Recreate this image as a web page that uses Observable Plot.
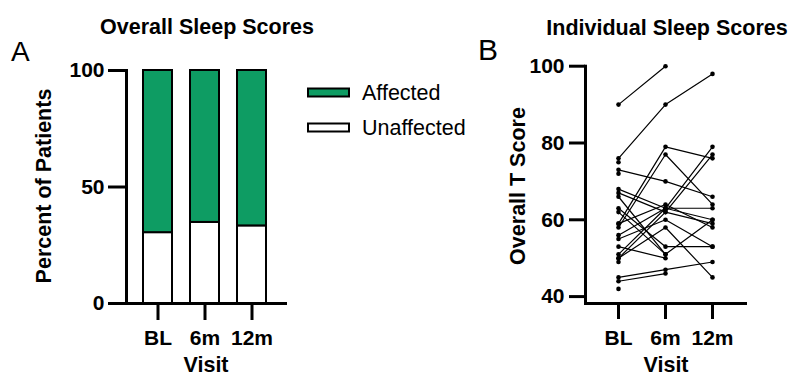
<!DOCTYPE html>
<html><head><meta charset="utf-8">
<script src="https://cdn.jsdelivr.net/npm/d3@7"></script>
<script src="https://cdn.jsdelivr.net/npm/@observablehq/plot@0.6"></script>
<style>
body{margin:0;background:#fff;}
#wrap{position:relative;width:790px;height:376px;overflow:hidden;font-family:"Liberation Sans",Arial,sans-serif;}
</style></head><body><div id="wrap"></div>
<script>
// ---- data ----
const visits = ["BL", "6m", "12m"];
const statuses = ["Unaffected", "Affected"];
const unaffectedPct = [30.4, 34.8, 33.3];
const affectedPct = [69.6, 65.2, 66.7];
const percentTicks = [0, 50, 100];
const scoreTicks = [40, 60, 80, 100];
const patientIds = [1,2,3,4,5,6,7,8,9,10,11,12,13,14,15,16,17,18,19,20,21,22,23];
const blScores  = [90, 76, 75, 73, 72, 68, 67, 66, 63, 62, 59, 58, 59, 50, 55, 53, 51, 50, 49, 45, 44, 42, 56];
const m6Scores  = [100, 90, null, 70, null, 63, 62, 51, 53, 51, 79, 77, 64, 58, 60, 50, 63, 62, null, 47, 46, null, 63];
const m12Scores = [null, 98, null, 66, null, 63, 59, null, 53, 60, 76, 64, 58, 45, 53, null, 79, 77, null, 49, null, null, 60];
const green = "#0e9c63";

const FONT = '"Liberation Sans", Arial, sans-serif';

// ---- tables ----
const barData = [];
visits.forEach((v, i) => {
  barData.push({visit: v, status: "Unaffected", pct: unaffectedPct[i]});
  barData.push({visit: v, status: "Affected", pct: affectedPct[i]});
});
const scoreData = [];
patientIds.forEach((id, i) => {
  [blScores[i], m6Scores[i], m12Scores[i]].forEach((s, j) => {
    if (s != null) scoreData.push({id, visit: visits[j], score: s});
  });
});

const baseStyle = {fontFamily: FONT, fontSize: "21px", fontWeight: "bold", color: "black", background: "transparent", overflow: "visible"};

// ---- Panel A ----
const plotA = Plot.plot({
  width: 300, height: 376,
  marginLeft: 126, marginRight: 15, marginTop: 70, marginBottom: 73,
  style: baseStyle,
  x: {type: "band", domain: visits, paddingInner: 0.39, paddingOuter: 0.369, align: 0.47, label: null},
  y: {domain: [0, 100], label: null},
  color: {domain: ["Affected", "Unaffected"], range: [green, "white"]},
  marks: [
    Plot.barY(barData, {x: "visit", y: "pct", fill: "status", stroke: "black", strokeWidth: 2}),
    Plot.frame({anchor: "left", strokeWidth: 3, strokeLinecap: "square"}),
    Plot.frame({anchor: "bottom", strokeWidth: 3, strokeLinecap: "square"}),
    Plot.axisY({ticks: percentTicks, tickSize: 18, tickPadding: 4, strokeWidth: 3, label: null}),
    Plot.axisX({tickSize: 17, tickPadding: 10, strokeWidth: 3, label: null})
  ]
});
plotA.style.position = "absolute";
plotA.style.left = "0px";
plotA.style.top = "0px";

// ---- Panel B ----
const plotB = Plot.plot({
  width: 310, height: 376,
  marginLeft: 105, marginRight: 45, marginTop: 65.7, marginBottom: 73,
  style: baseStyle,
  x: {type: "point", domain: visits, padding: 0.6875, label: null},
  y: {domain: [38.2, 100], label: null},
  marks: [
    Plot.line(scoreData, {x: "visit", y: "score", z: "id", stroke: "black", strokeWidth: 1.2}),
    Plot.dot(scoreData, {x: "visit", y: "score", r: 2.3, fill: "black", stroke: "none"}),
    Plot.frame({anchor: "left", strokeWidth: 3, strokeLinecap: "square"}),
    Plot.frame({anchor: "bottom", strokeWidth: 3, strokeLinecap: "square"}),
    Plot.axisY({ticks: scoreTicks, tickSize: 16, tickPadding: 5, strokeWidth: 3, label: null}),
    Plot.axisX({tickSize: 16, tickPadding: 11, strokeWidth: 3, label: null})
  ]
});
plotB.style.position = "absolute";
plotB.style.left = "480px";
plotB.style.top = "0px";

const wrap = document.getElementById("wrap");
wrap.appendChild(plotA);
wrap.appendChild(plotB);

// ---- overlay text & legend ----
const ov = d3.create("svg")
  .attr("width", 790).attr("height", 376)
  .style("position", "absolute").style("left", "0px").style("top", "0px")
  .style("pointer-events", "none")
  .attr("font-family", FONT);

const texts = [
  {t: "Overall Sleep Scores", x: 207, y: 33.5, size: 21.5, w: "bold", a: "middle"},
  {t: "Individual Sleep Scores", x: 667, y: 35, size: 21.5, w: "bold", a: "middle"},
  {t: "A", x: 11, y: 61, size: 28, w: "normal", a: "start"},
  {t: "B", x: 478, y: 60, size: 30, w: "normal", a: "start"},
  {t: "Visit", x: 206, y: 372, size: 21.5, w: "bold", a: "middle"},
  {t: "Visit", x: 666, y: 372, size: 21.5, w: "bold", a: "middle"},
  {t: "Percent of Patients", x: 51, y: 186, size: 21.5, w: "bold", a: "middle", r: -90},
  {t: "Overall T Score", x: 525, y: 186, size: 21.5, w: "bold", a: "middle", r: -90},
  {t: "Affected", x: 362, y: 100, size: 21.5, w: "normal", a: "start"},
  {t: "Unaffected", x: 362, y: 135, size: 21.5, w: "normal", a: "start"}
];
texts.forEach(d => {
  ov.append("text")
    .attr("transform", `translate(${d.x},${d.y})` + (d.r ? ` rotate(${d.r})` : ""))
    .attr("text-anchor", d.a)
    .attr("font-size", d.size)
    .attr("font-weight", d.w)
    .attr("fill", "black")
    .text(d.t);
});
const swatches = [
  {fill: green, y: 88.5},
  {fill: "white", y: 123.5}
];
swatches.forEach(s => {
  ov.append("rect").attr("x", 308).attr("y", s.y).attr("width", 41).attr("height", 8)
    .attr("fill", s.fill).attr("stroke", "black").attr("stroke-width", 2);
});
wrap.appendChild(ov.node());
</script>
</body></html>
